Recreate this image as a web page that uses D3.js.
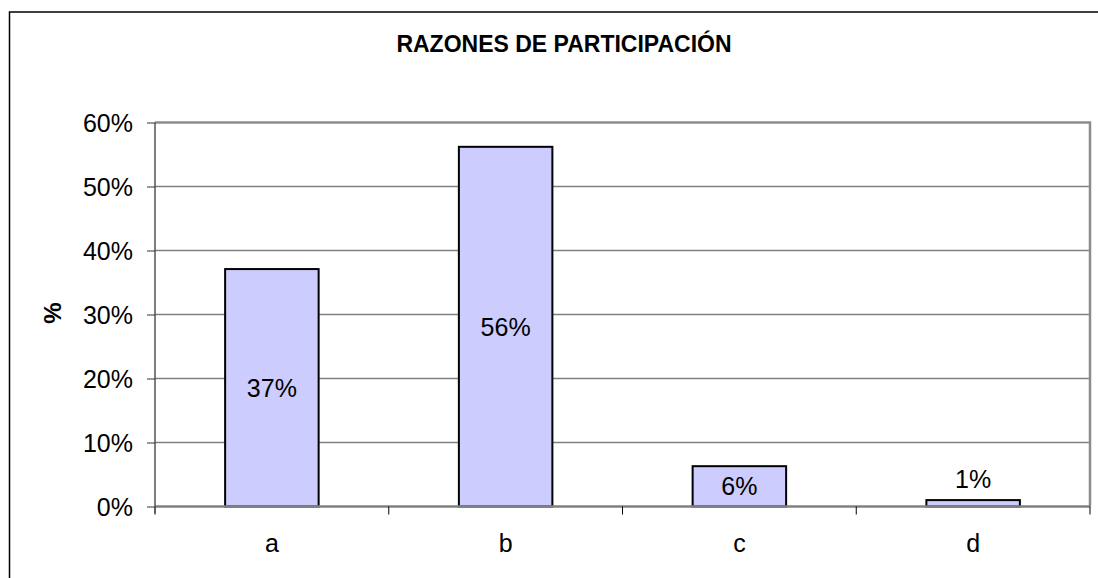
<!DOCTYPE html>
<html>
<head>
<meta charset="utf-8">
<script src="https://cdn.jsdelivr.net/npm/d3@7"></script>
<style>
  body { margin: 0; background: #fff; }
  svg text { font-family: "Liberation Sans", Arial, sans-serif; fill: #000; }
</style>
</head>
<body>
<svg id="chart" width="1098" height="578"></svg>
<script>
    // data
    let categories = ["a", "b", "c", "d"]
    let values = [0.371, 0.562, 0.063, 0.010]
    let valueLabels = ["37%", "56%", "6%", "1%"]
    let yTicks = [0, 0.1, 0.2, 0.3, 0.4, 0.5, 0.6]

    let title = "RAZONES DE PARTICIPACIÓN"
    let yTitle = "%"

    let margin = { left: 155, right: 1090, top: 122.5, bottom: 506.5 }

    let svg = d3.select("#chart")

    // outer frame (only top and left edges fall inside the picture)
    svg.append("rect")
        .attr("x", 9.5)
        .attr("y", 12)
        .attr("width", 1200)
        .attr("height", 700)
        .attr("fill", "none")
        .attr("stroke", "#000")
        .attr("stroke-width", 1.5)

    let yScale = d3.scaleLinear()
        .domain([0, 0.6])
        .range([margin.bottom, margin.top])

    let xBand = d3.scaleBand()
        .domain(categories)
        .range([margin.left, margin.right])
        .paddingInner(0.6)
        .paddingOuter(0.3)

    let xCat = d3.scaleBand()
        .domain(categories)
        .range([margin.left, margin.right])

    // gridlines
    svg.append("g")
        .selectAll("line")
        .data(yTicks.filter(d => d > 0 && d < 0.6))
        .enter()
        .append("line")
        .attr("x1", margin.left)
        .attr("x2", margin.right)
        .attr("y1", d => yScale(d))
        .attr("y2", d => yScale(d))
        .attr("stroke", "#808080")
        .attr("stroke-width", 1.5)

    // plot area border top and right
    svg.append("path")
        .attr("d", `M${margin.left},${yScale(0.6)}H${margin.right}V${margin.bottom}`)
        .attr("fill", "none")
        .attr("stroke", "#8c8c8c")
        .attr("stroke-width", 2.5)

    // bars
    svg.append("g")
        .selectAll("rect")
        .data(values)
        .enter()
        .append("rect")
        .attr("x", (d, i) => xBand(categories[i]))
        .attr("width", xBand.bandwidth())
        .attr("y", d => yScale(d))
        .attr("height", d => yScale(0) - yScale(d))
        .attr("fill", "#ccccff")
        .attr("stroke", "#000")
        .attr("stroke-width", 2)

    // x axis line
    svg.append("line")
        .attr("x1", margin.left)
        .attr("x2", margin.right)
        .attr("y1", yScale(0))
        .attr("y2", yScale(0))
        .attr("stroke", "#808080")
        .attr("stroke-width", 2.5)

    // x axis ticks at category boundaries
    let bounds = categories.map(c => xCat(c)).concat([margin.right])
    svg.append("g")
        .selectAll("line")
        .data(bounds)
        .enter()
        .append("line")
        .attr("x1", d => d)
        .attr("x2", d => d)
        .attr("y1", yScale(0))
        .attr("y2", yScale(0) + 8)
        .attr("stroke", "#000")
        .attr("stroke-width", 1)

    // y axis
    let yAxis = d3.axisLeft(yScale)
        .tickValues(yTicks)
        .tickFormat(d3.format(".0%"))
        .tickSize(8)
        .tickPadding(14)

    let yAxisG = svg.append("g")
        .attr("transform", `translate(${margin.left},0)`)
        .call(yAxis)

    yAxisG.select(".domain")
        .attr("stroke", "#555")
        .attr("stroke-width", 1.5)
        .attr("d", `M0,${margin.top}V${margin.bottom + 7}`)
    yAxisG.selectAll(".tick line").attr("stroke", "#333")
    yAxisG.selectAll(".tick text")
        .attr("font-size", 25)
        .attr("font-family", "Liberation Sans, Arial, sans-serif")
        .attr("dy", "0.36em")
        .attr("fill", "#000")

    // category labels
    svg.append("g")
        .selectAll("text")
        .data(categories)
        .enter()
        .append("text")
        .attr("x", d => xCat(d) + xCat.bandwidth() / 2)
        .attr("y", 552)
        .attr("text-anchor", "middle")
        .attr("font-size", 25)
        .text(d => d)

    // value labels (inside bar when it fits, above otherwise)
    svg.append("g")
        .selectAll("text")
        .data(values)
        .enter()
        .append("text")
        .attr("x", (d, i) => xBand(categories[i]) + xBand.bandwidth() / 2)
        .attr("y", d => {
            let top = yScale(d), bottom = yScale(0)
            if (bottom - top > 30) return (top + bottom) / 2
            return top - 21
        })
        .attr("dy", "0.36em")
        .attr("text-anchor", "middle")
        .attr("font-size", 25)
        .text((d, i) => valueLabels[i])

    // title
    svg.append("text")
        .attr("x", 564)
        .attr("y", 52)
        .attr("text-anchor", "middle")
        .attr("font-size", 23)
        .attr("font-weight", "bold")
        .text(title)

    // y axis title
    svg.append("text")
        .attr("transform", "translate(52,313) rotate(-90)")
        .attr("dy", "0.36em")
        .attr("text-anchor", "middle")
        .attr("font-size", 24)
        .attr("font-weight", "bold")
        .text(yTitle)
</script>
</body>
</html>
